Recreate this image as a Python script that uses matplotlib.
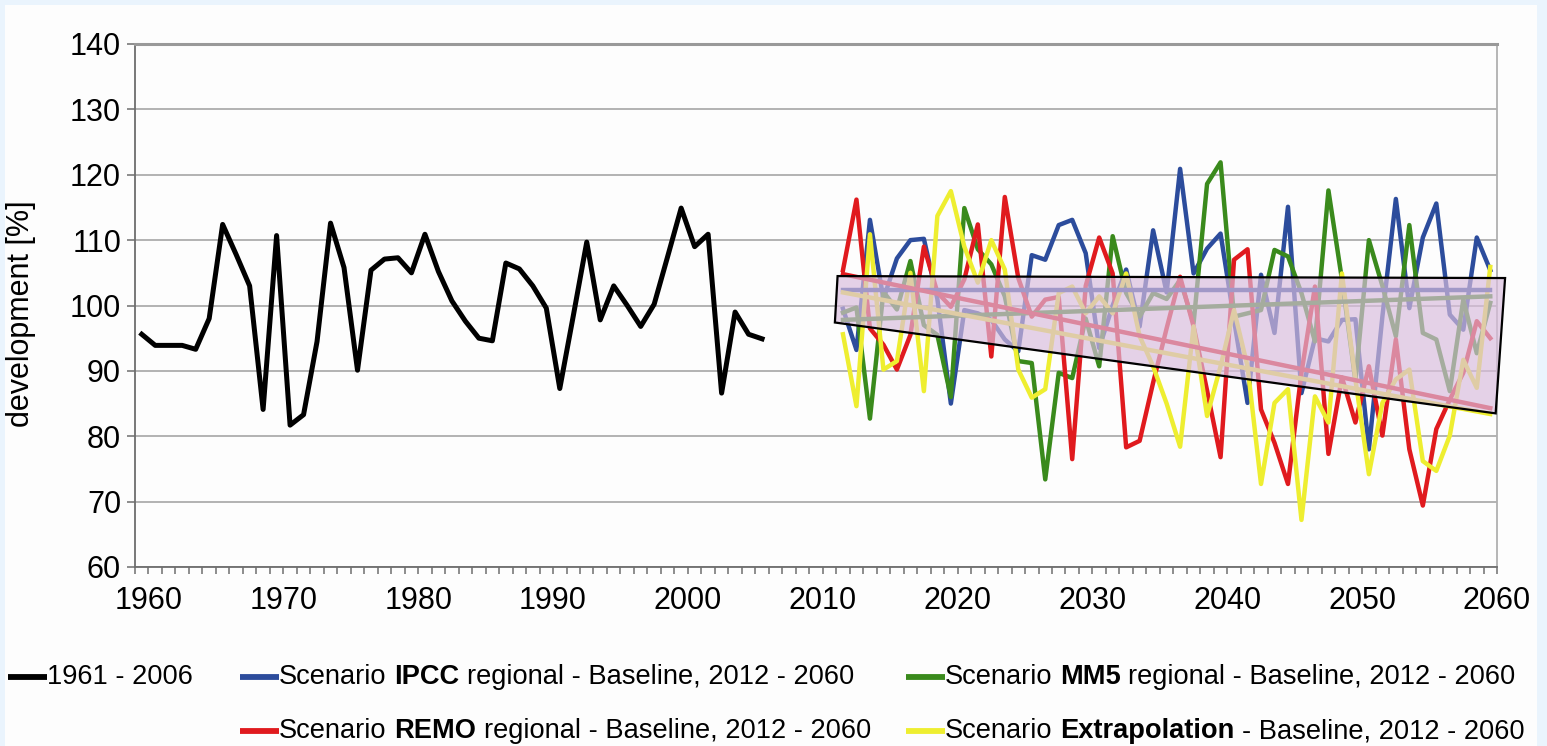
import numpy as np
import matplotlib
matplotlib.use("Agg")
import matplotlib.pyplot as plt
from matplotlib.patches import Polygon, Rectangle
from matplotlib.lines import Line2D

plt.rcParams['font.family'] = ['Liberation Sans', 'DejaVu Sans']

# ---- data -------------------------------------------------------------
hist_years = np.arange(1960, 2007)
hist_values = [95.6, 93.9, 93.9, 93.9, 93.3, 98.0, 112.4, 107.8, 103.0, 84.1,
               110.7, 81.7, 83.3, 94.5, 112.6, 105.8, 90.1, 105.4, 107.1, 107.3,
               105.0, 110.9, 105.2, 100.7, 97.6, 95.0, 94.6, 106.5, 105.6, 103.0,
               99.6, 87.3, 98.4, 109.7, 97.8, 103.0, 100.0, 96.8, 100.2, 107.5,
               114.9, 109.0, 110.9, 86.6, 99.0, 95.6, 94.9]

scen_years = np.arange(2012, 2061)
ipcc = [99.5, 93.2, 113.1, 101.0, 107.2, 110.0, 110.2, 101.0, 85.0, 99.3,
        98.8, 97.8, 94.8, 93.0, 107.7, 107.0, 112.3, 113.1, 108.0, 93.5,
        100.0, 105.5, 96.8, 111.5, 102.0, 120.9, 104.9, 108.7, 111.0, 97.8,
        85.1, 104.7, 95.8, 115.1, 86.6, 95.0, 94.5, 97.8, 97.9, 78.0,
        98.3, 116.3, 99.6, 110.4, 115.6, 98.6, 96.3, 110.4, 105.4]
mm5 = [98.9, 99.7, 82.7, 102.1, 99.4, 106.8, 97.0, 95.5, 86.0, 114.9,
       108.6, 106.3, 101.4, 91.5, 91.2, 73.4, 89.7, 88.9, 98.0, 90.7,
       110.6, 101.9, 98.3, 101.9, 101.0, 103.9, 97.3, 118.6, 121.9, 98.3,
       98.8, 99.3, 108.5, 107.5, 101.9, 94.5, 117.6, 104.0, 88.5, 110.0,
       103.0, 95.3, 112.3, 95.8, 94.8, 86.9, 100.9, 92.7, 100.4]
remo = [105.4, 116.2, 96.5, 94.0, 90.2, 95.5, 109.0, 102.0, 99.8, 104.0,
        112.4, 92.2, 116.6, 104.2, 98.3, 100.9, 101.3, 76.5, 103.0, 110.4,
        104.9, 78.3, 79.3, 88.2, 96.5, 104.4, 96.8, 87.0, 76.8, 107.0,
        108.6, 84.1, 79.0, 72.7, 89.7, 102.9, 77.3, 89.0, 82.1, 90.7,
        80.1, 94.8, 78.0, 69.4, 81.1, 85.6, 89.7, 97.6, 95.0]
extrapolation = [95.6, 84.6, 110.9, 90.2, 91.5, 105.0, 86.9, 113.7, 117.5, 109.0,
                 103.5, 110.0, 105.5, 90.2, 85.9, 87.2, 101.9, 102.9, 98.8, 101.4,
                 98.8, 104.9, 95.3, 90.7, 85.0, 78.4, 96.8, 83.1, 90.7, 99.3,
                 90.7, 72.7, 85.1, 87.2, 67.2, 86.1, 82.1, 104.9, 88.7, 74.2,
                 85.1, 88.7, 90.2, 76.2, 74.7, 80.1, 91.7, 87.4, 105.9]

# linear trends (start 2012, end 2060)
trend_years = [2012, 2060]
trend_ipcc = [102.4, 102.4]
trend_mm5 = [97.8, 101.4]
trend_remo = [104.8, 84.3]
trend_extrapolation = [102.0, 83.4]

# corridor of the scenario trends: (year, value) corners
corridor_years = [2011.6, 2061.1, 2060.4, 2011.4]
corridor_values = [104.5, 104.2, 83.5, 97.4]

x_tick_years = list(range(1960, 2061, 10))
y_ticks = list(range(60, 141, 10))

# ---- styling ----------------------------------------------------------
C_BLACK = '#000000'
C_BLUE = '#2c4c9c'
C_GREEN = '#3a8a1c'
C_RED = '#e01a1e'
C_YELLOW = '#eeee30'
GRID = '#a6a6a6'

W, H = 1547, 746
fig = plt.figure(figsize=(W / 100, H / 100), dpi=100)
fig.patch.set_facecolor('#eaf4fd')
fig.patches.append(Rectangle((5 / W, 0), 1532 / W, 741 / H, transform=fig.transFigure,
                             facecolor='#fdfdfd', edgecolor='none', zorder=-5))

ax = fig.add_axes([135 / W, 1 - 567 / H, 1362 / W, 523 / H])
ax.set_facecolor('#fdfdfd')

lw = 3.2
ax.plot(hist_years, hist_values, color=C_BLACK, lw=3.6, zorder=3)
ax.plot(scen_years, ipcc, color=C_BLUE, lw=lw, zorder=3)
ax.plot(scen_years, mm5, color=C_GREEN, lw=lw, zorder=3)
ax.plot(scen_years, remo, color=C_RED, lw=lw, zorder=3)
ax.plot(scen_years, extrapolation, color=C_YELLOW, lw=lw, zorder=3)

ax.plot(trend_years, trend_ipcc, color=C_BLUE, lw=lw, zorder=4)
ax.plot(trend_years, trend_mm5, color=C_GREEN, lw=lw, zorder=4)
ax.plot(trend_years, trend_extrapolation, color=C_YELLOW, lw=lw, zorder=4)
ax.plot(trend_years, trend_remo, color=C_RED, lw=lw, zorder=4)

corridor = Polygon(np.column_stack([corridor_years, corridor_values]), closed=True,
                   facecolor=(217 / 255, 189 / 255, 221 / 255, 0.68),
                   edgecolor='black', lw=1.6, zorder=5, clip_on=False)
ax.add_patch(corridor)

ax.set_xlim(1959.5, 2060.5)
ax.set_ylim(60, 140)
ax.set_yticks(y_ticks)
ax.set_xticks(np.array(x_tick_years) + 0.5)
ax.set_xticklabels([str(y) for y in x_tick_years])
ax.set_xticks(np.arange(1959.5, 2061, 1), minor=True)

ax.yaxis.grid(True, color=GRID, lw=1.2, zorder=0)
ax.set_axisbelow(True)
for side in ['left', 'bottom']:
    ax.spines[side].set_color('#6e6e6e')
    ax.spines[side].set_linewidth(1.3)
ax.spines['top'].set_color('#999999')
ax.spines['top'].set_linewidth(2.2)
ax.spines['right'].set_color('#b0b0b0')
ax.spines['right'].set_linewidth(1.3)

ax.tick_params(axis='both', which='both', direction='out', color='#6e6e6e', width=1.1)
ax.tick_params(axis='y', length=6, pad=4, labelsize=22)
ax.tick_params(axis='x', which='major', length=5, pad=9, labelsize=22)
ax.tick_params(axis='x', which='minor', length=5)

ax.set_ylabel('development [%]', fontsize=22)
ax.yaxis.set_label_coords(-0.073, 0.484)

# ---- legend -----------------------------------------------------------
FS = 19.6
GAP = 0.278 * FS  # width of a space, in points


def legend_entry(x_px, y_px, color, parts):
    y = 1 - y_px / H
    fig.add_artist(Line2D([x_px / W, (x_px + 39) / W], [y, y], color=color, lw=4.2,
                          solid_capstyle='butt', transform=fig.transFigure))
    prev = None
    for text, bold in parts:
        weight = 'bold' if bold else 'normal'
        if prev is None:
            prev = fig.text((x_px + 39) / W, y, text, fontsize=FS, weight=weight,
                            ha='left', va='center')
        else:
            prev = ax.annotate(text, xy=(1, 0.5), xycoords=prev, xytext=(GAP, 0),
                               textcoords='offset points', fontsize=FS, weight=weight,
                               ha='left', va='center', annotation_clip=False)


legend_entry(8, 677, C_BLACK, [('1961 - 2006', False)])
legend_entry(240, 677, C_BLUE, [('Scenario', False), ('IPCC', True),
                                ('regional - Baseline, 2012 - 2060', False)])
legend_entry(906, 677, C_GREEN, [('Scenario', False), ('MM5', True),
                                 ('regional - Baseline, 2012 - 2060', False)])
legend_entry(240, 731, C_RED, [('Scenario', False), ('REMO', True),
                               ('regional - Baseline, 2012 - 2060', False)])
legend_entry(906, 731, C_YELLOW, [('Scenario', False), ('Extrapolation', True),
                                  ('- Baseline, 2012 - 2060', False)])

fig.savefig('out.png', dpi=100, facecolor=fig.get_facecolor())
